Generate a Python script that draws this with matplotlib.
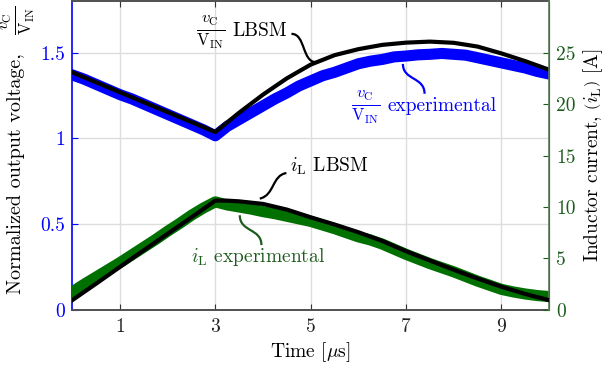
import matplotlib
matplotlib.use("Agg")
import matplotlib.pyplot as plt
from matplotlib.path import Path
from matplotlib.patches import PathPatch

plt.rcParams['font.family'] = ['cmr10']
plt.rcParams['mathtext.fontset'] = 'cm'
plt.rcParams['axes.formatter.use_mathtext'] = True
plt.rcParams['axes.unicode_minus'] = False

# ---------------- data ----------------
t_lbsm_v = [0, 0.5, 1, 1.5, 2, 2.5, 3, 3.5, 4, 4.5, 5, 5.5, 6, 6.5, 7, 7.5, 8, 8.5, 9, 9.5, 10]
v_lbsm = [1.385, 1.327, 1.269, 1.211, 1.153, 1.095, 1.037, 1.15, 1.255, 1.35, 1.43, 1.485, 1.52,
          1.545, 1.558, 1.564, 1.557, 1.535, 1.495, 1.45, 1.40]

t_exp = [0, 0.25, 0.5, 0.75, 1, 1.25, 1.5, 1.75, 2, 2.25, 2.5, 2.75, 3, 3.25, 3.5, 3.75, 4, 4.25,
         4.5, 4.75, 5, 5.25, 5.5, 5.75, 6, 6.25, 6.5, 6.75, 7, 7.25, 7.5, 7.75, 8, 8.25, 8.5, 8.75,
         9, 9.25, 9.5, 9.75, 10]
v_exp = [1.37, 1.345, 1.315, 1.285, 1.255, 1.23, 1.20, 1.17, 1.14, 1.11, 1.08, 1.05, 1.015, 1.07,
         1.11, 1.15, 1.19, 1.23, 1.265, 1.305, 1.335, 1.365, 1.385, 1.41, 1.435, 1.45, 1.46, 1.475,
         1.48, 1.487, 1.49, 1.495, 1.49, 1.485, 1.47, 1.455, 1.44, 1.425, 1.41, 1.39, 1.375]
i_exp = [1.75, 2.5, 3.2, 3.9, 4.6, 5.35, 6.1, 6.85, 7.65, 8.4, 9.2, 9.9, 10.5, 10.2, 10.0, 9.8,
         9.55, 9.35, 9.1, 8.85, 8.6, 8.25, 7.9, 7.5, 7.1, 6.8, 6.4, 5.9, 5.4, 4.95, 4.5, 4.1, 3.7,
         3.25, 2.8, 2.4, 2.0, 1.75, 1.55, 1.4, 1.3]

t_lbsm_i = [0, 0.5, 1, 1.5, 2, 2.5, 3, 3.25, 3.5, 4, 4.5, 5, 5.5, 6, 6.5, 7, 7.5, 8, 8.5, 9, 9.5, 10]
i_lbsm = [0.95, 2.55, 4.18, 5.8, 7.4, 9.0, 10.62, 10.62, 10.55, 10.3, 9.75, 9.0, 8.3, 7.55, 6.7,
          5.7, 4.8, 3.9, 3.05, 2.25, 1.55, 0.95]

xticks = [1, 3, 5, 7, 9]
xtick_labels = ['1', '3', '5', '7', '9']
yticks_left = [0, 0.5, 1, 1.5]
ytick_left_labels = ['0', '0.5', '1', '1.5']
yticks_right = [0, 5, 10, 15, 20, 25]
ytick_right_labels = ['0', '5', '10', '15', '20', '25']

BLUE = '#0000ff'
GREEN = '#007000'
DGREEN = '#1e5c1e'
FS = 14

fig = plt.figure(figsize=(6.09, 3.73), dpi=100)
ax = fig.add_axes([0.1186, 0.169, 0.7832, 0.828])
ax2 = ax.twinx()

ax.set_xlim(0, 10)
ax.set_ylim(0, 1.8)
ax2.set_ylim(0, 30)

ax.set_xticks(xticks)
ax.set_xticklabels(xtick_labels, fontsize=FS, color='#222222')
ax.set_yticks(yticks_left)
ax.set_yticklabels(ytick_left_labels, fontsize=FS, color=BLUE)
ax2.set_yticks(yticks_right)
ax2.set_yticklabels(ytick_right_labels, fontsize=FS, color=DGREEN)

ax.grid(True, color='#dddddd', linewidth=1.0)
ax.set_axisbelow(True)

ax.tick_params(axis='x', direction='in', length=4, top=True, colors='#333333', pad=6)
ax.tick_params(axis='x', labelcolor='#222222')
ax.tick_params(axis='y', direction='in', length=4, colors=BLUE, pad=5)
ax2.tick_params(axis='y', direction='in', length=4, colors=DGREEN, pad=5)

for sp in ['top', 'bottom']:
    ax.spines[sp].set_color('#505050')
    ax.spines[sp].set_linewidth(1.4)
ax.spines['left'].set_color(BLUE)
ax.spines['left'].set_linewidth(1.2)
ax2.spines['right'].set_color('#5a7f5a')
ax2.spines['right'].set_linewidth(1.2)
ax2.spines['left'].set_visible(False)
ax2.spines['top'].set_visible(False)
ax2.spines['bottom'].set_visible(False)

# traces
ax.plot(t_exp, v_exp, color=BLUE, linewidth=8, zorder=2)
ax.plot(t_lbsm_v, v_lbsm, color='black', linewidth=3, zorder=3)
ax2.plot(t_exp, i_exp, color=GREEN, linewidth=8, zorder=2)
ax2.plot(t_lbsm_i, i_lbsm, color='black', linewidth=3, zorder=3)

# labels
frac = r'$\frac{v_{\mathrm{C}}}{\mathrm{V}_{\mathrm{IN}}}$'
ax.set_xlabel(r'Time [$\mu$s]', fontsize=FS, labelpad=3)
fig.text(0.027, 1 - 294 / 373, 'Normalized output voltage,', rotation=90, fontsize=14.5,
         ha='center', va='bottom')
fig.text(0.030, 1 - 6 / 373, frac, rotation=90, fontsize=17, ha='center', va='top')
ax2.set_ylabel(r'Inductor current, $\left(i_{\mathrm{L}}\right)$ [A]', fontsize=FS, labelpad=4)

ax.text(2.60, 1.599, frac, fontsize=17, color='black', va='baseline', ha='left')
ax.text(3.36, 1.599, 'LBSM', fontsize=14, color='black', va='baseline', ha='left')
ax.text(5.85, 1.159, frac, fontsize=17, color=BLUE, va='baseline', ha='left')
ax.text(6.62, 1.159, 'experimental', fontsize=14, color=BLUE, va='baseline', ha='left')
ax.text(4.56, 0.804, r'$i_{\mathrm{L}}$ LBSM', fontsize=14, color='black', va='baseline', ha='left')
ax.text(2.50, 0.281, r'$i_{\mathrm{L}}$ experimental', fontsize=14, color=DGREEN, va='baseline', ha='left')

def leader(pts, color):
    path = Path(pts, [Path.MOVETO, Path.CURVE4, Path.CURVE4, Path.CURVE4])
    ax.add_patch(PathPatch(path, facecolor='none', edgecolor=color, linewidth=1.6, zorder=5))

leader([(4.596, 1.609), (4.895, 1.610), (4.812, 1.442), (5.119, 1.444)], 'black')
leader([(6.933, 1.434), (6.933, 1.337), (7.387, 1.360), (7.387, 1.260)], BLUE)
leader([(3.932, 0.649), (4.246, 0.669), (4.184, 0.785), (4.491, 0.798)], 'black')
leader([(3.513, 0.552), (3.513, 0.453), (3.967, 0.477), (3.967, 0.378)], DGREEN)

fig.savefig('out.png', dpi=100)
